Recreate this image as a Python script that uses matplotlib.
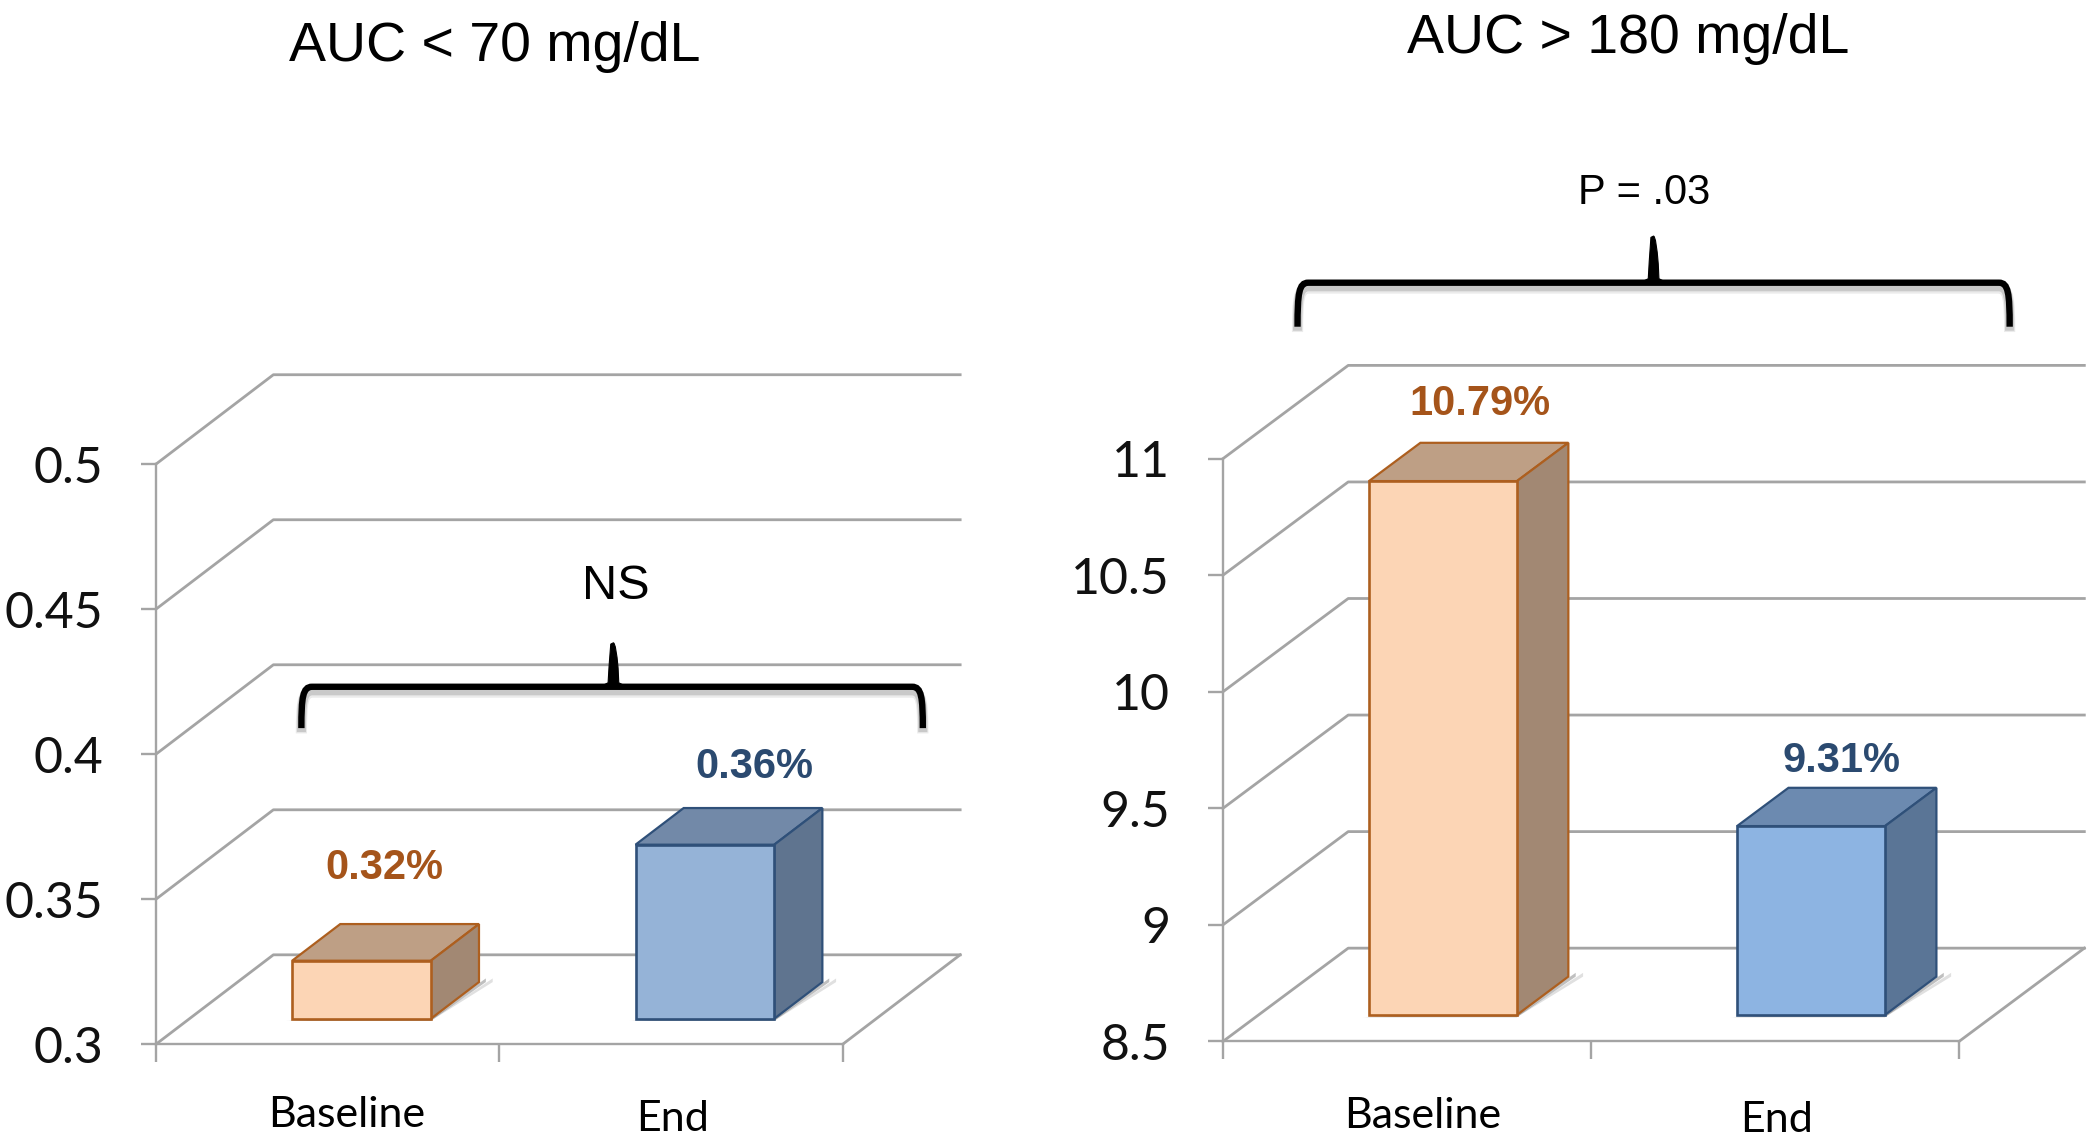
import matplotlib
matplotlib.use("Agg")
import matplotlib.pyplot as plt
from matplotlib.path import Path
from matplotlib.patches import PathPatch

W, H = 2091, 1139
S = W / 1568  # layout below was measured on a 1568 wide copy

categories = ["Baseline", "End"]
left_values = [0.32, 0.36]
right_values = [10.79, 9.31]
left_ticks = [0.3, 0.35, 0.4, 0.45, 0.5]
right_ticks = [8.5, 9, 9.5, 10, 10.5, 11]
left_tick_labels = ["0.3", "0.35", "0.4", "0.45", "0.5"]
right_tick_labels = ["8.5", "9", "9.5", "10", "10.5", "11"]

GRID = "#a4a4a4"
TICK_FONT = "Lato"
HELV = "Liberation Sans"

fig = plt.figure(figsize=(W / 100, H / 100), dpi=100, facecolor="white")


def fx(x):
    return x * S / W


def fy(y):
    return 1 - y * S / H


def label(x, y, s, size, color="black", weight="normal", family=HELV):
    fig.text(fx(x), fy(y), s, fontsize=size, color=color, fontweight=weight,
             family=family, ha="center", va="center")


def brace(x0, x1, xm, ybar, ytip, yend, lw=4.6):
    r = 8
    verts = [(x0, yend), (x0, ybar + r), (x0 + 1, ybar), (x0 + r, ybar),
             (x1 - r, ybar), (x1 - 1, ybar), (x1, ybar + r), (x1, yend)]
    codes = [Path.MOVETO, Path.CURVE4, Path.CURVE4, Path.CURVE4, Path.LINETO,
             Path.CURVE4, Path.CURVE4, Path.CURVE4]
    # soft shadow under the brace
    for off, a, extra in [(4, 0.08, 3.5), (3, 0.14, 2)]:
        sv = [(fx(x), fy(y + off)) for x, y in verts]
        fig.add_artist(PathPatch(Path(sv, codes), fill=False, ec="black", alpha=a,
                                 lw=lw + extra, transform=fig.transFigure, capstyle="butt"))
    v = [(fx(x), fy(y)) for x, y in verts]
    fig.add_artist(PathPatch(Path(v, codes), fill=False, ec="black", lw=lw,
                             transform=fig.transFigure, capstyle="butt"))
    # tapered middle tip
    tip = [(xm - 10, ybar), (xm - 4, ybar - 3), (xm - 3.5, ybar - 14), (xm - 2, ytip),
           (xm, ytip - 1), (xm + 2, ytip), (xm + 3.5, ybar - 14), (xm + 4, ybar - 3),
           (xm + 10, ybar), (xm - 10, ybar)]
    tv = [(fx(x), fy(y)) for x, y in tip]
    tc = [Path.MOVETO, Path.LINETO, Path.CURVE3, Path.CURVE3, Path.LINETO, Path.CURVE3,
          Path.CURVE3, Path.LINETO, Path.LINETO, Path.CLOSEPOLY]
    fig.add_artist(PathPatch(Path(tv, tc), fc="black", ec="black", lw=0.8,
                             transform=fig.transFigure))


def panel(x0, x1, y_top, y_bot, ticks, tick_labels, values, depth_px, styles, bar_w, shift):
    ax = fig.add_axes([fx(x0), fy(y_bot), fx(x1) - fx(x0), fy(y_top) - fy(y_bot)])
    ymin, ymax = ticks[0], ticks[-1]
    ax.set_xlim(0, len(categories))
    ax.set_ylim(ymin, ymax)
    ax.patch.set_visible(False)

    # depth of the floor expressed in data units
    ddx = depth_px[0] / (x1 - x0) * len(categories)
    ddy = depth_px[1] / (y_bot - y_top) * (ymax - ymin)

    for s in ["top", "right"]:
        ax.spines[s].set_visible(False)
    for s in ["left", "bottom"]:
        ax.spines[s].set_color(GRID)
        ax.spines[s].set_linewidth(1.7)

    ax.set_yticks(ticks)
    ax.set_yticklabels(tick_labels, fontsize=36, family=TICK_FONT, color="#111111")
    ax.set_xticks(range(len(categories) + 1))
    ax.set_xticklabels([])
    ax.tick_params(axis="y", length=11, width=1.7, color=GRID, pad=27)
    ax.tick_params(axis="x", length=13, width=1.7, color=GRID)

    # walls and floor
    for t in ticks:
        ax.plot([0, ddx, len(categories) + ddx], [t, t + ddy, t + ddy], color=GRID,
                lw=2.0, clip_on=False, zorder=1)
    ax.plot([len(categories), len(categories) + ddx], [ymin, ymin + ddy], color=GRID,
            lw=2.0, clip_on=False, zorder=1)

    # bars sit 28.5% into the floor and fill up to 69.5% of it
    f0, f1 = 0.285, 0.695
    for i, v in enumerate(values):
        st = styles[i]
        c = i + 0.5 + f0 * ddx + shift
        lo = c - bar_w / 2
        hi = c + bar_w / 2
        base = ymin + f0 * ddy
        top = base + (v - ymin)
        bx = (f1 - f0) * ddx
        by = (f1 - f0) * ddy
        # shadow at the foot of the bar
        for grow, a in [(0.02, 0.12), (0.01, 0.25)]:
            ax.fill([lo - grow, hi, hi + bx + grow * 2, hi + bx + grow * 2, hi + grow],
                    [base - by * 0.06, base - by * 0.06, base + by, base + by * 1.1, base + by * 0.1],
                    color="black", alpha=a, lw=0, clip_on=False, zorder=2)
        ax.bar(c, v - ymin, width=bar_w, bottom=base, color=st["front"], edgecolor=st["edge"],
               linewidth=1.9, clip_on=False, zorder=4)
        ax.fill([lo, hi, hi + bx, lo + bx], [top, top, top + by, top + by], facecolor=st["top"],
                edgecolor=st["edge"], lw=1.6, clip_on=False, zorder=3)
        ax.fill([hi, hi + bx, hi + bx, hi], [base, base + by, top + by, top], facecolor=st["side"],
                edgecolor=st["edge"], lw=1.6, clip_on=False, zorder=3)
    return ax


orange = {"front": "#fcd5b5", "top": "#be9f85", "side": "#a28873", "edge": "#ad5f1f"}
blue_l = {"front": "#95b3d7", "top": "#7289a8", "side": "#5f748f", "edge": "#2f5079"}
blue_r = {"front": "#8db4e2", "top": "#6c8ab0", "side": "#5a7596", "edge": "#2f5079"}

panel(117, 632, 348, 783, left_ticks, left_tick_labels, left_values, (88, 67),
      [orange, blue_l], 0.404, 0.001)
panel(917, 1469, 344, 781, right_ticks, right_tick_labels, right_values, (94, 70),
      [orange, blue_r], 0.402, 0.001)

# titles
label(371, 35, "AUC < 70 mg/dL", 40)
label(1221, 29, "AUC > 180 mg/dL", 40)

# value labels
label(288, 651, f"{left_values[0]}%", 30, "#a5541a", "bold")
label(566, 575, f"{left_values[1]}%", 30, "#2b4a70", "bold")
label(1110, 303, f"{right_values[0]}%", 30, "#a5541a", "bold")
label(1381, 571, f"{right_values[1]}%", 30, "#2b4a70", "bold")

# category labels
label(260, 836, categories[0], 31, family=TICK_FONT)
label(504, 839, categories[1], 31, family=TICK_FONT)
label(1067, 837, categories[0], 31, family=TICK_FONT)
label(1332, 840, categories[1], 31, family=TICK_FONT)

# brackets
label(462, 440, "NS", 35)
brace(226, 692, 460, 515, 483, 546)
label(1233, 145, "P = .03", 30)
brace(973, 1507, 1240, 212, 178, 245)

plt.savefig("out.png", dpi=100)
plt.close()
